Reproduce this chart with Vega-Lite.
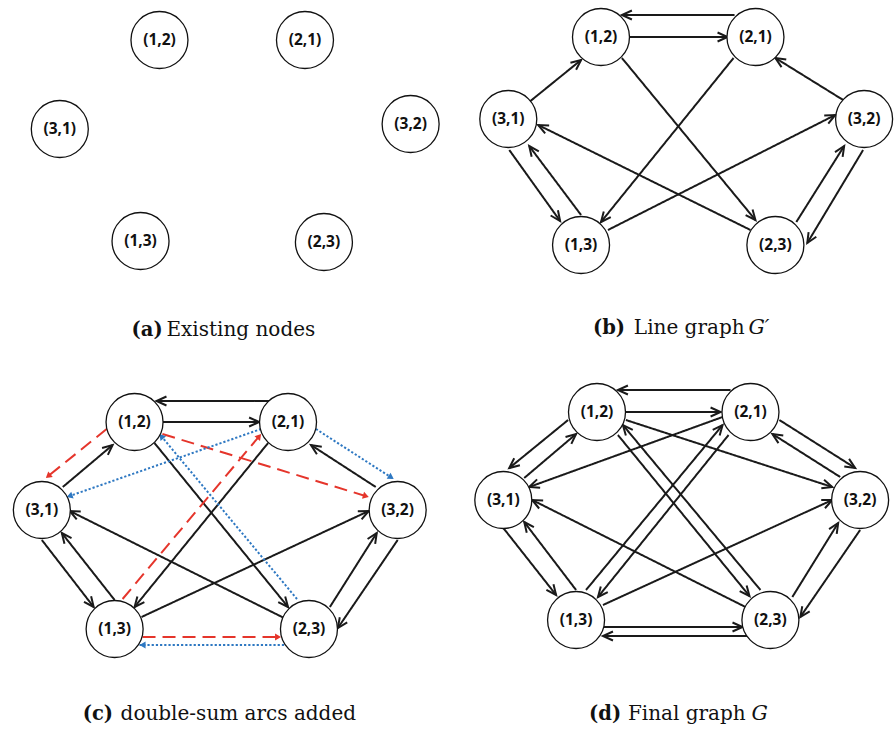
{
  "$schema": "https://vega.github.io/schema/vega-lite/v6.json",
  "width": 896,
  "height": 729,
  "autosize": {"type": "fit", "contains": "padding"},
  "padding": 0,
  "background": "white",
  "config": {"view": {"stroke": null}},
  "datasets": {
    "nodes": [
      {"p": "a", "n": "(1,2)", "x": 160, "y": 40},
      {"p": "a", "n": "(2,1)", "x": 306, "y": 40},
      {"p": "a", "n": "(3,1)", "x": 60, "y": 129},
      {"p": "a", "n": "(3,2)", "x": 412, "y": 124},
      {"p": "a", "n": "(1,3)", "x": 141, "y": 241},
      {"p": "a", "n": "(2,3)", "x": 325, "y": 242},
      {"p": "b", "n": "(1,2)", "x": 603, "y": 37},
      {"p": "b", "n": "(2,1)", "x": 758, "y": 37},
      {"p": "b", "n": "(3,1)", "x": 510, "y": 119},
      {"p": "b", "n": "(3,2)", "x": 867, "y": 119},
      {"p": "b", "n": "(1,3)", "x": 583, "y": 245},
      {"p": "b", "n": "(2,3)", "x": 778, "y": 245},
      {"p": "c", "n": "(1,2)", "x": 135, "y": 422},
      {"p": "c", "n": "(2,1)", "x": 289, "y": 422},
      {"p": "c", "n": "(3,1)", "x": 42, "y": 510},
      {"p": "c", "n": "(3,2)", "x": 399, "y": 510},
      {"p": "c", "n": "(1,3)", "x": 115, "y": 629},
      {"p": "c", "n": "(2,3)", "x": 310, "y": 629},
      {"p": "d", "n": "(1,2)", "x": 599, "y": 412},
      {"p": "d", "n": "(2,1)", "x": 753, "y": 412},
      {"p": "d", "n": "(3,1)", "x": 505, "y": 500},
      {"p": "d", "n": "(3,2)", "x": 863, "y": 500},
      {"p": "d", "n": "(1,3)", "x": 578, "y": 620},
      {"p": "d", "n": "(2,3)", "x": 773, "y": 620}
    ],
    "edges": [
      {"p": "b", "from": "(2,1)", "to": "(1,2)", "k": "solid", "x": 737, "y": 15, "x2": 624, "y2": 15},
      {"p": "b", "from": "(1,2)", "to": "(2,1)", "k": "solid", "x": 631, "y": 37, "x2": 730, "y2": 37},
      {"p": "b", "from": "(3,1)", "to": "(1,2)", "k": "solid", "x": 531, "y": 102, "x2": 583, "y2": 60},
      {"p": "b", "from": "(3,2)", "to": "(2,1)", "k": "solid", "x": 846, "y": 100, "x2": 778, "y2": 58},
      {"p": "b", "from": "(1,2)", "to": "(2,3)", "k": "solid", "x": 624, "y": 58, "x2": 758, "y2": 220},
      {"p": "b", "from": "(2,1)", "to": "(1,3)", "k": "solid", "x": 736, "y": 58, "x2": 603, "y2": 222},
      {"p": "b", "from": "(2,3)", "to": "(3,1)", "k": "solid", "x": 753, "y": 230, "x2": 540, "y2": 125},
      {"p": "b", "from": "(1,3)", "to": "(3,2)", "k": "solid", "x": 610, "y": 230, "x2": 838, "y2": 115},
      {"p": "b", "from": "(3,1)", "to": "(1,3)", "k": "solid", "x": 511, "y": 150, "x2": 562, "y2": 221},
      {"p": "b", "from": "(1,3)", "to": "(3,1)", "k": "solid", "x": 583, "y": 215, "x2": 531, "y2": 146},
      {"p": "b", "from": "(2,3)", "to": "(3,2)", "k": "solid", "x": 799, "y": 222, "x2": 847, "y2": 146},
      {"p": "b", "from": "(3,2)", "to": "(2,3)", "k": "solid", "x": 866, "y": 150, "x2": 810, "y2": 243},

      {"p": "c", "from": "(2,1)", "to": "(1,2)", "k": "solid", "x": 270, "y": 401, "x2": 157, "y2": 401},
      {"p": "c", "from": "(1,2)", "to": "(2,1)", "k": "solid", "x": 163, "y": 422, "x2": 260, "y2": 422},
      {"p": "c", "from": "(3,1)", "to": "(1,2)", "k": "solid", "x": 63, "y": 487, "x2": 113, "y2": 445},
      {"p": "c", "from": "(3,2)", "to": "(2,1)", "k": "solid", "x": 377, "y": 487, "x2": 312, "y2": 445},
      {"p": "c", "from": "(1,2)", "to": "(2,3)", "k": "solid", "x": 155, "y": 443, "x2": 289, "y2": 607},
      {"p": "c", "from": "(2,1)", "to": "(1,3)", "k": "solid", "x": 269, "y": 443, "x2": 135, "y2": 607},
      {"p": "c", "from": "(2,3)", "to": "(3,1)", "k": "solid", "x": 285, "y": 618, "x2": 70, "y2": 511},
      {"p": "c", "from": "(1,3)", "to": "(3,2)", "k": "solid", "x": 142, "y": 617, "x2": 370, "y2": 511},
      {"p": "c", "from": "(3,1)", "to": "(1,3)", "k": "solid", "x": 42, "y": 540, "x2": 94, "y2": 607},
      {"p": "c", "from": "(1,3)", "to": "(3,1)", "k": "solid", "x": 115, "y": 600, "x2": 62, "y2": 533},
      {"p": "c", "from": "(2,3)", "to": "(3,2)", "k": "solid", "x": 331, "y": 607, "x2": 378, "y2": 533},
      {"p": "c", "from": "(3,2)", "to": "(2,3)", "k": "solid", "x": 399, "y": 540, "x2": 339, "y2": 628},
      {"p": "c", "from": "(1,2)", "to": "(3,1)", "k": "dash", "x": 107, "y": 429, "x2": 46, "y2": 478},
      {"p": "c", "from": "(1,2)", "to": "(3,2)", "k": "dash", "x": 163, "y": 434, "x2": 370, "y2": 497},
      {"p": "c", "from": "(1,3)", "to": "(2,1)", "k": "dash", "x": 123, "y": 599, "x2": 262, "y2": 434},
      {"p": "c", "from": "(1,3)", "to": "(2,3)", "k": "dash", "x": 143, "y": 637, "x2": 282, "y2": 637},
      {"p": "c", "from": "(2,1)", "to": "(3,1)", "k": "dot", "x": 262, "y": 429, "x2": 67, "y2": 497},
      {"p": "c", "from": "(2,1)", "to": "(3,2)", "k": "dot", "x": 317, "y": 429, "x2": 395, "y2": 479},
      {"p": "c", "from": "(2,3)", "to": "(1,2)", "k": "dot", "x": 298, "y": 599, "x2": 160, "y2": 434},
      {"p": "c", "from": "(2,3)", "to": "(1,3)", "k": "dot", "x": 285, "y": 645, "x2": 140, "y2": 645},

      {"p": "d", "from": "(2,1)", "to": "(1,2)", "k": "solid", "x": 733, "y": 390, "x2": 620, "y2": 390},
      {"p": "d", "from": "(1,2)", "to": "(2,1)", "k": "solid", "x": 628, "y": 412, "x2": 723, "y2": 412},
      {"p": "d", "from": "(3,1)", "to": "(1,2)", "k": "solid", "x": 526, "y": 478, "x2": 578, "y2": 434},
      {"p": "d", "from": "(1,2)", "to": "(3,1)", "k": "solid", "x": 570, "y": 420, "x2": 511, "y2": 468},
      {"p": "d", "from": "(3,2)", "to": "(2,1)", "k": "solid", "x": 843, "y": 477, "x2": 775, "y2": 434},
      {"p": "d", "from": "(2,1)", "to": "(3,2)", "k": "solid", "x": 782, "y": 420, "x2": 858, "y2": 468},
      {"p": "d", "from": "(1,2)", "to": "(2,3)", "k": "solid", "x": 620, "y": 435, "x2": 752, "y2": 596},
      {"p": "d", "from": "(2,3)", "to": "(1,2)", "k": "solid", "x": 763, "y": 590, "x2": 625, "y2": 425},
      {"p": "d", "from": "(2,1)", "to": "(1,3)", "k": "solid", "x": 731, "y": 435, "x2": 600, "y2": 597},
      {"p": "d", "from": "(1,3)", "to": "(2,1)", "k": "solid", "x": 588, "y": 590, "x2": 725, "y2": 425},
      {"p": "d", "from": "(1,2)", "to": "(3,2)", "k": "solid", "x": 628, "y": 420, "x2": 835, "y2": 487},
      {"p": "d", "from": "(2,1)", "to": "(3,1)", "k": "solid", "x": 725, "y": 417, "x2": 531, "y2": 487},
      {"p": "d", "from": "(2,3)", "to": "(3,1)", "k": "solid", "x": 748, "y": 607, "x2": 534, "y2": 500},
      {"p": "d", "from": "(1,3)", "to": "(3,2)", "k": "solid", "x": 605, "y": 605, "x2": 835, "y2": 500},
      {"p": "d", "from": "(3,1)", "to": "(1,3)", "k": "solid", "x": 505, "y": 528, "x2": 558, "y2": 595},
      {"p": "d", "from": "(1,3)", "to": "(3,1)", "k": "solid", "x": 578, "y": 590, "x2": 526, "y2": 522},
      {"p": "d", "from": "(2,3)", "to": "(3,2)", "k": "solid", "x": 795, "y": 597, "x2": 841, "y2": 523},
      {"p": "d", "from": "(3,2)", "to": "(2,3)", "k": "solid", "x": 863, "y": 530, "x2": 803, "y2": 617},
      {"p": "d", "from": "(1,3)", "to": "(2,3)", "k": "solid", "x": 606, "y": 627, "x2": 745, "y2": 627},
      {"p": "d", "from": "(2,3)", "to": "(1,3)", "k": "solid", "x": 750, "y": 636, "x2": 605, "y2": 636}
    ],
    "captions": [
      {"p": "a", "s": "b", "t": "(a)", "x": 132, "y": 336},
      {"p": "a", "s": "r", "t": "Existing nodes", "x": 167, "y": 336},
      {"p": "b", "s": "b", "t": "(b)", "x": 595, "y": 334},
      {"p": "b", "s": "r", "t": "Line graph", "x": 636, "y": 334},
      {"p": "b", "s": "i", "t": "G′", "x": 751, "y": 334},
      {"p": "c", "s": "b", "t": "(c)", "x": 83, "y": 720},
      {"p": "c", "s": "r", "t": "double-sum arcs added", "x": 121, "y": 720},
      {"p": "d", "s": "b", "t": "(d)", "x": 591, "y": 720},
      {"p": "d", "s": "r", "t": "Final graph", "x": 630, "y": 720},
      {"p": "d", "s": "i", "t": "G", "x": 754, "y": 720}
    ]
  },
  "layer": [
    {
      "data": {"name": "edges"},
      "mark": {"type": "rule", "strokeWidth": 2},
      "encoding": {
        "x": {"field": "x", "type": "quantitative", "scale": {"domain": [0, 896], "nice": false, "zero": false}, "axis": null},
        "y": {"field": "y", "type": "quantitative", "scale": {"domain": [0, 729], "nice": false, "zero": false, "reverse": true}, "axis": null},
        "x2": {"field": "x2"},
        "y2": {"field": "y2"},
        "color": {"field": "k", "type": "nominal", "scale": {"domain": ["solid", "dash", "dot"], "range": ["#1a1a1a", "#e5352b", "#2e78c2"]}, "legend": null},
        "strokeDash": {"field": "k", "type": "nominal", "scale": {"domain": ["solid", "dash", "dot"], "range": [[1, 0], [13, 7], [2.2, 2]]}, "legend": null},
        "strokeWidth": {"field": "k", "type": "nominal", "scale": {"domain": ["solid", "dash", "dot"], "range": [2, 2.2, 2.6]}, "legend": null}
      }
    },
    {
      "data": {"name": "edges"},
      "transform": [
        {"filter": "datum.k === 'solid'"},
        {"calculate": "(atan2(datum.y2 - datum.y, datum.x2 - datum.x) * 180 / PI + 360) % 360", "as": "a"}
      ],
      "mark": {"type": "point", "shape": "M -1 -0.45 L 0 0 L -1 0.45", "filled": false, "size": 400, "strokeWidth": 2, "opacity": 1, "color": "#1a1a1a"},
      "encoding": {
        "x": {"field": "x2", "type": "quantitative"},
        "y": {"field": "y2", "type": "quantitative"},
        "angle": {"field": "a", "type": "quantitative", "scale": null}
      }
    },
    {
      "data": {"name": "edges"},
      "transform": [
        {"filter": "datum.k !== 'solid'"},
        {"calculate": "(atan2(datum.y2 - datum.y, datum.x2 - datum.x) * 180 / PI + 360) % 360", "as": "a"}
      ],
      "mark": {"type": "point", "shape": "M -1 -0.6 L 0 0 L -1 0.6 Z", "filled": true, "size": 144, "opacity": 1},
      "encoding": {
        "x": {"field": "x2", "type": "quantitative"},
        "y": {"field": "y2", "type": "quantitative"},
        "angle": {"field": "a", "type": "quantitative", "scale": null},
        "color": {"field": "k", "type": "nominal", "scale": {"domain": ["solid", "dash", "dot"], "range": ["#1a1a1a", "#e5352b", "#2e78c2"]}, "legend": null}
      }
    },
    {
      "data": {"name": "nodes"},
      "mark": {"type": "point", "shape": "circle", "size": 3249, "filled": true, "fill": "white", "stroke": "#111111", "strokeWidth": 1.3, "opacity": 1},
      "encoding": {
        "x": {"field": "x", "type": "quantitative"},
        "y": {"field": "y", "type": "quantitative"}
      }
    },
    {
      "data": {"name": "nodes"},
      "mark": {"type": "text", "font": "Open Sans", "fontWeight": "bold", "fontSize": 15.5, "align": "center", "baseline": "middle", "color": "#111111"},
      "encoding": {
        "x": {"field": "x", "type": "quantitative"},
        "y": {"field": "y", "type": "quantitative"},
        "text": {"field": "n"}
      }
    },
    {
      "data": {"name": "captions"},
      "transform": [{"filter": "datum.s === 'b'"}],
      "mark": {"type": "text", "font": "DejaVu Serif", "fontWeight": "bold", "fontSize": 19.5, "align": "left", "baseline": "alphabetic", "color": "#111111"},
      "encoding": {
        "x": {"field": "x", "type": "quantitative"},
        "y": {"field": "y", "type": "quantitative"},
        "text": {"field": "t"}
      }
    },
    {
      "data": {"name": "captions"},
      "transform": [{"filter": "datum.s === 'r'"}],
      "mark": {"type": "text", "font": "DejaVu Serif", "fontSize": 20, "align": "left", "baseline": "alphabetic", "color": "#111111"},
      "encoding": {
        "x": {"field": "x", "type": "quantitative"},
        "y": {"field": "y", "type": "quantitative"},
        "text": {"field": "t"}
      }
    },
    {
      "data": {"name": "captions"},
      "transform": [{"filter": "datum.s === 'i'"}],
      "mark": {"type": "text", "font": "DejaVu Serif", "fontStyle": "italic", "fontSize": 20.5, "align": "left", "baseline": "alphabetic", "color": "#111111"},
      "encoding": {
        "x": {"field": "x", "type": "quantitative"},
        "y": {"field": "y", "type": "quantitative"},
        "text": {"field": "t"}
      }
    }
  ]
}
